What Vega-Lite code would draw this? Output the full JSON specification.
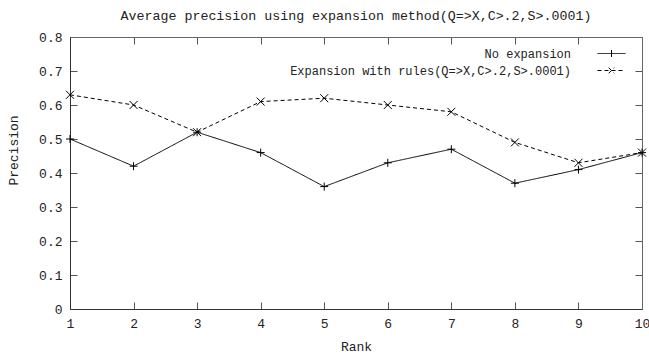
{
  "$schema": "https://vega.github.io/schema/vega-lite/v6.json",
  "width": 572,
  "height": 272,
  "autosize": {"type": "none"},
  "padding": {"left": 70, "top": 37, "right": 7, "bottom": 45},
  "background": "white",
  "title": {
    "text": "Average precision using expansion method(Q=>X,C>.2,S>.0001)",
    "font": "Liberation Mono",
    "fontSize": 13.3,
    "fontWeight": "normal",
    "color": "#222",
    "anchor": "middle",
    "offset": 9
  },
  "data": {
    "values": [
      {"rank": 1, "series": "No expansion", "precision": 0.50},
      {"rank": 2, "series": "No expansion", "precision": 0.42},
      {"rank": 3, "series": "No expansion", "precision": 0.52},
      {"rank": 4, "series": "No expansion", "precision": 0.46},
      {"rank": 5, "series": "No expansion", "precision": 0.36},
      {"rank": 6, "series": "No expansion", "precision": 0.43},
      {"rank": 7, "series": "No expansion", "precision": 0.47},
      {"rank": 8, "series": "No expansion", "precision": 0.37},
      {"rank": 9, "series": "No expansion", "precision": 0.41},
      {"rank": 10, "series": "No expansion", "precision": 0.46},
      {"rank": 1, "series": "Expansion with rules(Q=>X,C>.2,S>.0001)", "precision": 0.63},
      {"rank": 2, "series": "Expansion with rules(Q=>X,C>.2,S>.0001)", "precision": 0.60},
      {"rank": 3, "series": "Expansion with rules(Q=>X,C>.2,S>.0001)", "precision": 0.52},
      {"rank": 4, "series": "Expansion with rules(Q=>X,C>.2,S>.0001)", "precision": 0.61},
      {"rank": 5, "series": "Expansion with rules(Q=>X,C>.2,S>.0001)", "precision": 0.62},
      {"rank": 6, "series": "Expansion with rules(Q=>X,C>.2,S>.0001)", "precision": 0.60},
      {"rank": 7, "series": "Expansion with rules(Q=>X,C>.2,S>.0001)", "precision": 0.58},
      {"rank": 8, "series": "Expansion with rules(Q=>X,C>.2,S>.0001)", "precision": 0.49},
      {"rank": 9, "series": "Expansion with rules(Q=>X,C>.2,S>.0001)", "precision": 0.43},
      {"rank": 10, "series": "Expansion with rules(Q=>X,C>.2,S>.0001)", "precision": 0.46}
    ]
  },
  "config": {
    "view": {"stroke": null},
    "font": "Liberation Mono",
    "axis": {
      "domainColor": "#333",
      "domainWidth": 1,
      "labelFont": "Liberation Mono",
      "labelFontSize": 13,
      "labelColor": "#222",
      "titleFont": "Liberation Mono",
      "titleFontSize": 13,
      "titleFontWeight": "normal",
      "titleColor": "#222"
    }
  },
  "layer": [
    {
      "mark": {"type": "line", "strokeWidth": 1, "color": "black"},
      "encoding": {
        "x": {
          "field": "rank",
          "type": "quantitative",
          "scale": {"domain": [1, 10], "nice": false, "zero": false},
          "axis": {
            "orient": "bottom",
            "values": [1, 2, 3, 4, 5, 6, 7, 8, 9, 10],
            "ticks": false,
            "grid": true,
            "gridColor": "#555",
            "gridOpacity": 1,
            "gridWidth": 1,
            "gridDash": [7, 258, 7],
            "labelPadding": 8,
            "labelFlush": false,
            "labelOverlap": false,
            "title": "Rank",
            "titleBaseline": "middle",
            "titleY": 37
          }
        },
        "y": {
          "field": "precision",
          "type": "quantitative",
          "scale": {"domain": [0, 0.8], "nice": false},
          "axis": {
            "orient": "left",
            "values": [0, 0.1, 0.2, 0.3, 0.4, 0.5, 0.6, 0.7, 0.8],
            "format": ".1~f",
            "ticks": false,
            "grid": true,
            "gridColor": "#555",
            "gridOpacity": 1,
            "gridWidth": 1,
            "gridDash": [7, 558, 7],
            "labelPadding": 8,
            "labelFlush": false,
            "labelOverlap": false,
            "title": "Precision",
            "titleAngle": -90,
            "titleBaseline": "middle",
            "titleAlign": "center",
            "titleX": -57,
            "titleY": 113
          }
        },
        "strokeDash": {
          "field": "series",
          "type": "nominal",
          "scale": {
            "domain": ["No expansion", "Expansion with rules(Q=>X,C>.2,S>.0001)"],
            "range": [[1, 0], [4, 3]]
          },
          "legend": {
            "title": null,
            "orient": "none",
            "legendX": 534,
            "legendY": 9,
            "padding": 0,
            "symbolType": "M-2,0H2M0,-0.5V0.5",
            "symbolSize": 196,
            "symbolStrokeColor": "black",
            "symbolStrokeWidth": 1,
            "labelAlign": "right",
            "labelOffset": -48,
            "labelFont": "Liberation Mono",
            "labelFontSize": 12,
            "labelColor": "#222",
            "labelLimit": 0,
            "rowPadding": 3,
            "encode": {
              "symbols": {
                "update": {
                  "shape": {"signal": "datum.value === 'No expansion' ? 'M-2,0H2M0,-0.5V0.5' : 'M-2,0H2M-0.4,-0.4L0.4,0.4M-0.4,0.4L0.4,-0.4'"}
                }
              }
            }
          }
        }
      }
    },
    {
      "mark": {"type": "point", "filled": false, "strokeWidth": 1, "color": "black", "opacity": 1},
      "encoding": {
        "x": {"field": "rank", "type": "quantitative", "axis": null},
        "y": {"field": "precision", "type": "quantitative", "axis": null},
        "shape": {
          "condition": {"test": "datum.series === 'No expansion'", "value": "M-1,0H1M0,-1V1"},
          "value": "M-1,-1L1,1M-1,1L1,-1"
        },
        "size": {"value": 64}
      }
    },
    {
      "mark": {"type": "point", "opacity": 0},
      "encoding": {
        "x": {
          "field": "rank",
          "type": "quantitative",
          "axis": {
            "orient": "top",
            "ticks": false,
            "grid": false,
            "domainColor": "#666",
            "labels": false,
            "title": null
          }
        },
        "y": {
          "field": "precision",
          "type": "quantitative",
          "axis": {
            "orient": "right",
            "ticks": false,
            "grid": false,
            "domainColor": "#666",
            "labels": false,
            "title": null
          }
        }
      }
    }
  ],
  "resolve": {"axis": {"x": "independent", "y": "independent"}}
}
